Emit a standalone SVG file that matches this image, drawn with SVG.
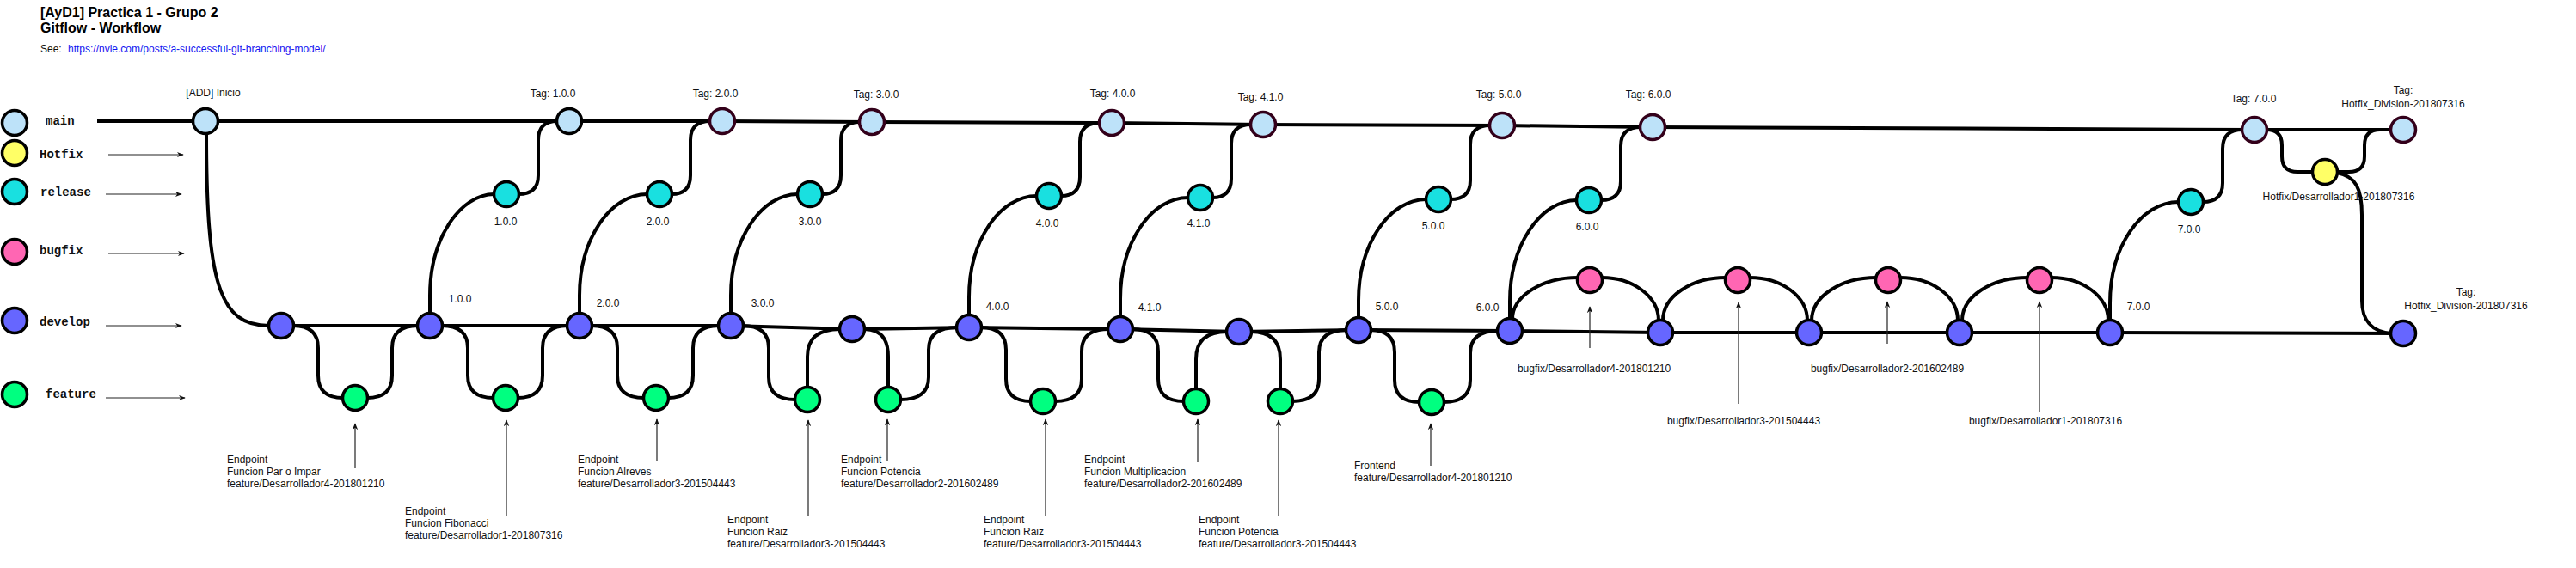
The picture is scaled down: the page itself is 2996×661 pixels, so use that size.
<svg xmlns="http://www.w3.org/2000/svg" width="2996" height="661" viewBox="0 0 2996 661">
<style>
text{font-family:"Liberation Sans",Arial,sans-serif;font-size:12px;fill:#111}
.title{font-size:16px;font-weight:bold;fill:#000}
.link{fill:#1414f0}
.leg{font-family:"Liberation Mono","DejaVu Sans Mono",monospace;font-size:14px;font-weight:bold;fill:#111}
.mid{text-anchor:middle}
circle{stroke:#000;stroke-width:3.5}
.main{fill:#bde2f9}
.tag{stroke:#33001a}
.hot{fill:#ffff66}
.rel{fill:#19e0e0}
.bug{fill:#ff66b3}
.dev{fill:#6666ff}
.feat{fill:#00ff80}
.edge{fill:none;stroke:#000;stroke-width:4;stroke-linejoin:round}
.ptr{fill:none;stroke:#222;stroke-width:1.2}
</style>
<defs>
<marker id="arr" viewBox="0 0 10 10" refX="9" refY="5" markerWidth="8" markerHeight="8" markerUnits="userSpaceOnUse" orient="auto"><path d="M0,1 L10,5 L0,9 L3,5 z" fill="#111"/></marker>
</defs>

<g id="header">
<text class="title" x="47" y="20">[AyD1] Practica 1 - Grupo 2</text>
<text class="title" x="47" y="38">Gitflow - Workflow</text>
<text x="47" y="61">See:</text>
<text class="link" x="79" y="61">https://nvie.com/posts/a-successful-git-branching-model/</text>
</g>

<g id="legend">
<circle class="main" cx="17" cy="143" r="14.5"/><text class="leg" x="53" y="145">main</text>
<circle class="hot" cx="17" cy="178" r="14.5"/><text class="leg" x="46" y="184">Hotfix</text>
<circle class="rel" cx="17" cy="223" r="14.5"/><text class="leg" x="47" y="228">release</text>
<circle class="bug" cx="17" cy="293" r="14.5"/><text class="leg" x="46" y="296">bugfix</text>
<circle class="dev" cx="17" cy="373" r="14.5"/><text class="leg" x="46" y="379">develop</text>
<circle class="feat" cx="17" cy="459" r="14.5"/><text class="leg" x="53" y="463">feature</text>
<line class="ptr" x1="126" y1="180" x2="213" y2="180" marker-end="url(#arr)"/>
<line class="ptr" x1="123" y1="226" x2="211" y2="226" marker-end="url(#arr)"/>
<line class="ptr" x1="126" y1="295" x2="214" y2="295" marker-end="url(#arr)"/>
<line class="ptr" x1="123" y1="379" x2="211" y2="379" marker-end="url(#arr)"/>
<line class="ptr" x1="123" y1="463" x2="215" y2="463" marker-end="url(#arr)"/>
</g>

<g id="labels">
<text class="mid" x="248" y="112">[ADD] Inicio</text>
<text class="mid" x="643" y="113">Tag: 1.0.0</text>
<text class="mid" x="832" y="113">Tag: 2.0.0</text>
<text class="mid" x="1019" y="114">Tag: 3.0.0</text>
<text class="mid" x="1294" y="113">Tag: 4.0.0</text>
<text class="mid" x="1466" y="117">Tag: 4.1.0</text>
<text class="mid" x="1743" y="114">Tag: 5.0.0</text>
<text class="mid" x="1917" y="114">Tag: 6.0.0</text>
<text class="mid" x="2621" y="119">Tag: 7.0.0</text>
<text class="mid" x="2795" y="109">Tag:</text>
<text class="mid" x="2795" y="125">Hotfix_Division-201807316</text>
<text class="mid" x="2868" y="344">Tag:</text>
<text class="mid" x="2868" y="360">Hotfix_Division-201807316</text>
<text class="mid" x="588" y="262">1.0.0</text>
<text class="mid" x="765" y="262">2.0.0</text>
<text class="mid" x="942" y="262">3.0.0</text>
<text class="mid" x="1218" y="264">4.0.0</text>
<text class="mid" x="1394" y="264">4.1.0</text>
<text class="mid" x="1667" y="267">5.0.0</text>
<text class="mid" x="1846" y="268">6.0.0</text>
<text class="mid" x="2546" y="271">7.0.0</text>
<text class="mid" x="535" y="352">1.0.0</text>
<text class="mid" x="707" y="357">2.0.0</text>
<text class="mid" x="887" y="357">3.0.0</text>
<text class="mid" x="1160" y="361">4.0.0</text>
<text class="mid" x="1337" y="362">4.1.0</text>
<text class="mid" x="1613" y="361">5.0.0</text>
<text class="mid" x="1730" y="362">6.0.0</text>
<text class="mid" x="2487" y="361">7.0.0</text>
<text class="mid" x="2720" y="233">Hotfix/Desarrollador1-201807316</text>
<text class="mid" x="1854" y="433">bugfix/Desarrollador4-201801210</text>
<text class="mid" x="2028" y="494">bugfix/Desarrollador3-201504443</text>
<text class="mid" x="2195" y="433">bugfix/Desarrollador2-201602489</text>
<text class="mid" x="2379" y="494">bugfix/Desarrollador1-201807316</text>
<text x="264" y="539">Endpoint</text><text x="264" y="553">Funcion Par o Impar</text><text x="264" y="567">feature/Desarrollador4-201801210</text>
<text x="471" y="599">Endpoint</text><text x="471" y="613">Funcion Fibonacci</text><text x="471" y="627">feature/Desarrollador1-201807316</text>
<text x="672" y="539">Endpoint</text><text x="672" y="553">Funcion Alreves</text><text x="672" y="567">feature/Desarrollador3-201504443</text>
<text x="846" y="609">Endpoint</text><text x="846" y="623">Funcion Raiz</text><text x="846" y="637">feature/Desarrollador3-201504443</text>
<text x="978" y="539">Endpoint</text><text x="978" y="553">Funcion Potencia</text><text x="978" y="567">feature/Desarrollador2-201602489</text>
<text x="1144" y="609">Endpoint</text><text x="1144" y="623">Funcion Raiz</text><text x="1144" y="637">feature/Desarrollador3-201504443</text>
<text x="1261" y="539">Endpoint</text><text x="1261" y="553">Funcion Multiplicacion</text><text x="1261" y="567">feature/Desarrollador2-201602489</text>
<text x="1394" y="609">Endpoint</text><text x="1394" y="623">Funcion Potencia</text><text x="1394" y="637">feature/Desarrollador3-201504443</text>
<text x="1575" y="546">Frontend</text><text x="1575" y="560">feature/Desarrollador4-201801210</text>
</g>

<g id="connectors">
<polyline class="edge" points="113,141 239,141 662,141 840,141 1014,142 1293,143 1469,145 1747,146 1922,148 2622,151 2795,151"/>
<polyline class="edge" points="327,379 500,379 674,379 850,379 991,383 1127,381 1303,383 1441,386 1580,384 1756,385 1931,387 2104,387 2279,387 2454,387 2795,388"/>
<path class="edge" d="M240 155 C240 330 255 379 313 379"/>
<path class="edge" d="M341 379 Q370 379 370 405 V437 Q370 463 399 463"/>
<path class="edge" d="M514 379 Q544 379 544 405 V437 Q544 463 574 463"/>
<path class="edge" d="M688 379 Q718 379 718 405 V437 Q718 463 749 463"/>
<path class="edge" d="M864 379 Q894 379 894 405 V439 Q894 465 925 465"/>
<path class="edge" d="M1141 381 Q1170 381 1170 407 V441 Q1170 467 1199 467"/>
<path class="edge" d="M1317 383 Q1347 383 1347 409 V441 Q1347 467 1377 467"/>
<path class="edge" d="M1594 384 Q1622 384 1622 410 V442 Q1622 468 1651 468"/>
<path class="edge" d="M427 463 Q456 463 456 437 V405 Q456 379 486 379"/>
<path class="edge" d="M602 463 Q631 463 631 437 V405 Q631 379 660 379"/>
<path class="edge" d="M777 463 Q806 463 806 437 V405 Q806 379 836 379"/>
<path class="edge" d="M1047 465 Q1080 465 1080 439 V407 Q1080 381 1113 381"/>
<path class="edge" d="M1227 467 Q1258 467 1258 441 V409 Q1258 383 1289 383"/>
<path class="edge" d="M1503 467 Q1534 467 1534 441 V410 Q1534 384 1566 384"/>
<path class="edge" d="M1679 468 Q1710 468 1710 442 V411 Q1710 385 1742 385"/>
<path class="edge" d="M939 451 V415 Q939 383 977 383"/>
<path class="edge" d="M1391 453 V418 Q1391 386 1427 386"/>
<path class="edge" d="M1005 383 Q1033 383 1033 415 V451"/>
<path class="edge" d="M1455 386 Q1489 386 1489 418 V453"/>
<path class="edge" d="M500 365 V344 C500 279 534 226 575 226"/>
<path class="edge" d="M674 365 V344 C674 279 709 226 753 226"/>
<path class="edge" d="M850 365 V344 C850 279 885 226 928 226"/>
<path class="edge" d="M1127 367 V346 C1127 281 1162 228 1206 228"/>
<path class="edge" d="M1303 369 V348 C1303 283 1338 230 1382 230"/>
<path class="edge" d="M1580 370 V350 C1580 285 1615 232 1659 232"/>
<path class="edge" d="M1756 371 V351 C1756 286 1791 233 1834 233"/>
<path class="edge" d="M2454 373 V353 C2454 288 2489 235 2534 235"/>
<path class="edge" d="M603 226 Q626 226 626 204 V163 Q626 141 648 141"/>
<path class="edge" d="M781 226 Q803 226 803 204 V163 Q803 141 826 141"/>
<path class="edge" d="M956 226 Q978 226 978 204 V164 Q978 142 1000 142"/>
<path class="edge" d="M1234 228 Q1256 228 1256 206 V165 Q1256 143 1279 143"/>
<path class="edge" d="M1410 230 Q1432 230 1432 208 V167 Q1432 145 1455 145"/>
<path class="edge" d="M1687 232 Q1710 232 1710 210 V168 Q1710 146 1733 146"/>
<path class="edge" d="M1862 233 Q1885 233 1885 211 V170 Q1885 148 1908 148"/>
<path class="edge" d="M2562 235 Q2585 235 2585 213 V173 Q2585 151 2608 151"/>
<path class="edge" d="M1759 371 C1759 345 1793 323 1835 323"/>
<path class="edge" d="M1863 323 C1899 323 1929 345 1929 373"/>
<path class="edge" d="M1934 373 C1934 345 1967 323 2007 323"/>
<path class="edge" d="M2035 323 C2072 323 2102 345 2102 373"/>
<path class="edge" d="M2107 373 C2107 345 2141 323 2182 323"/>
<path class="edge" d="M2210 323 C2247 323 2277 345 2277 373"/>
<path class="edge" d="M2282 373 C2282 345 2316 323 2358 323"/>
<path class="edge" d="M2386 323 C2422 323 2452 345 2452 373"/>
<path class="edge" d="M2636 151 Q2654 151 2654 169 V182 Q2654 200 2672 200 H2690"/>
<path class="edge" d="M2718 200 H2732 Q2750 200 2750 182 V169 Q2750 151 2768 151 H2781"/>
<path class="edge" d="M2718 201 C2740 205 2747 220 2747 250 V350 C2747 372 2758 386 2781 388"/>
<line class="ptr" x1="413" y1="545" x2="413" y2="493" marker-end="url(#arr)"/>
<line class="ptr" x1="589" y1="600" x2="589" y2="489" marker-end="url(#arr)"/>
<line class="ptr" x1="764" y1="537" x2="764" y2="488" marker-end="url(#arr)"/>
<line class="ptr" x1="940" y1="600" x2="940" y2="489" marker-end="url(#arr)"/>
<line class="ptr" x1="1032" y1="537" x2="1032" y2="488" marker-end="url(#arr)"/>
<line class="ptr" x1="1216" y1="600" x2="1216" y2="488" marker-end="url(#arr)"/>
<line class="ptr" x1="1393" y1="538" x2="1393" y2="488" marker-end="url(#arr)"/>
<line class="ptr" x1="1487" y1="600" x2="1487" y2="489" marker-end="url(#arr)"/>
<line class="ptr" x1="1664" y1="542" x2="1664" y2="493" marker-end="url(#arr)"/>
<line class="ptr" x1="1849" y1="405" x2="1849" y2="357" marker-end="url(#arr)"/>
<line class="ptr" x1="2022" y1="470" x2="2022" y2="352" marker-end="url(#arr)"/>
<line class="ptr" x1="2195" y1="400" x2="2195" y2="351" marker-end="url(#arr)"/>
<line class="ptr" x1="2372" y1="480" x2="2372" y2="351" marker-end="url(#arr)"/>
</g>

<g id="main-commits">
<circle id="m-inicio" class="main" cx="239" cy="141" r="14.5"/>
<circle id="m-100" class="main" cx="662" cy="141" r="14.5"/>
<circle id="m-200" class="main tag" cx="840" cy="141" r="14.5"/>
<circle id="m-300" class="main tag" cx="1014" cy="142" r="14.5"/>
<circle id="m-400" class="main tag" cx="1293" cy="143" r="14.5"/>
<circle id="m-410" class="main tag" cx="1469" cy="145" r="14.5"/>
<circle id="m-500" class="main tag" cx="1747" cy="146" r="14.5"/>
<circle id="m-600" class="main tag" cx="1922" cy="148" r="14.5"/>
<circle id="m-700" class="main tag" cx="2622" cy="151" r="14.5"/>
<circle id="m-hotfix" class="main tag" cx="2795" cy="151" r="14.5"/>
</g>
<g id="hotfix-commits">
<circle id="h-1" class="hot" cx="2704" cy="200" r="14.5"/>
</g>
<g id="release-commits">
<circle id="r-100" class="rel" cx="589" cy="226" r="14.5"/>
<circle id="r-200" class="rel" cx="767" cy="226" r="14.5"/>
<circle id="r-300" class="rel" cx="942" cy="226" r="14.5"/>
<circle id="r-400" class="rel" cx="1220" cy="228" r="14.5"/>
<circle id="r-410" class="rel" cx="1396" cy="230" r="14.5"/>
<circle id="r-500" class="rel" cx="1673" cy="232" r="14.5"/>
<circle id="r-600" class="rel" cx="1848" cy="233" r="14.5"/>
<circle id="r-700" class="rel" cx="2548" cy="235" r="14.5"/>
</g>
<g id="bugfix-commits">
<circle id="b-4" class="bug" cx="1849" cy="326" r="14.5"/>
<circle id="b-3" class="bug" cx="2021" cy="326" r="14.5"/>
<circle id="b-2" class="bug" cx="2196" cy="326" r="14.5"/>
<circle id="b-1" class="bug" cx="2372" cy="326" r="14.5"/>
</g>
<g id="develop-commits">
<circle id="d-0" class="dev" cx="327" cy="379" r="14.5"/>
<circle id="d-100" class="dev" cx="500" cy="379" r="14.5"/>
<circle id="d-200" class="dev" cx="674" cy="379" r="14.5"/>
<circle id="d-300" class="dev" cx="850" cy="379" r="14.5"/>
<circle id="d-3b" class="dev" cx="991" cy="383" r="14.5"/>
<circle id="d-400" class="dev" cx="1127" cy="381" r="14.5"/>
<circle id="d-410" class="dev" cx="1303" cy="383" r="14.5"/>
<circle id="d-41b" class="dev" cx="1441" cy="386" r="14.5"/>
<circle id="d-500" class="dev" cx="1580" cy="384" r="14.5"/>
<circle id="d-600" class="dev" cx="1756" cy="385" r="14.5"/>
<circle id="d-b4" class="dev" cx="1931" cy="387" r="14.5"/>
<circle id="d-b3" class="dev" cx="2104" cy="387" r="14.5"/>
<circle id="d-b2" class="dev" cx="2279" cy="387" r="14.5"/>
<circle id="d-700" class="dev" cx="2454" cy="387" r="14.5"/>
<circle id="d-hotfix" class="dev" cx="2795" cy="388" r="14.5"/>
</g>
<g id="feature-commits">
<circle id="f-1" class="feat" cx="413" cy="463" r="14.5"/>
<circle id="f-2" class="feat" cx="588" cy="463" r="14.5"/>
<circle id="f-3" class="feat" cx="763" cy="463" r="14.5"/>
<circle id="f-4" class="feat" cx="939" cy="465" r="14.5"/>
<circle id="f-5" class="feat" cx="1033" cy="465" r="14.5"/>
<circle id="f-6" class="feat" cx="1213" cy="467" r="14.5"/>
<circle id="f-7" class="feat" cx="1391" cy="467" r="14.5"/>
<circle id="f-8" class="feat" cx="1489" cy="467" r="14.5"/>
<circle id="f-9" class="feat" cx="1665" cy="468" r="14.5"/>
</g>
</svg>
